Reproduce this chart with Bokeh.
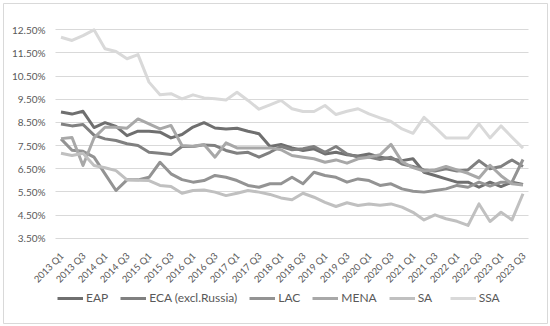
import math
from bokeh.plotting import figure
from bokeh.models import Range1d, FixedTicker, Legend, LegendItem, ColumnDataSource
from bokeh.core.properties import value
from bokeh.embed import file_html
from bokeh.resources import INLINE

quarters = [
    "2013 Q1", "2013 Q2", "2013 Q3", "2013 Q4",
    "2014 Q1", "2014 Q2", "2014 Q3", "2014 Q4",
    "2015 Q1", "2015 Q2", "2015 Q3", "2015 Q4",
    "2016 Q1", "2016 Q2", "2016 Q3", "2016 Q4",
    "2017 Q1", "2017 Q2", "2017 Q3", "2017 Q4",
    "2018 Q1", "2018 Q2", "2018 Q3", "2018 Q4",
    "2019 Q1", "2019 Q2", "2019 Q3", "2019 Q4",
    "2020 Q1", "2020 Q2", "2020 Q3", "2020 Q4",
    "2021 Q1", "2021 Q2", "2021 Q3", "2021 Q4",
    "2022 Q1", "2022 Q2", "2022 Q3", "2022 Q4",
    "2023 Q1", "2023 Q2", "2023 Q3",
]

eap = [8.95, 8.86, 8.98, 8.28, 8.49, 8.33, 7.93, 8.12, 8.12, 8.08, 7.83, 7.98, 8.30,
       8.49, 8.26, 8.22, 8.25, 8.12, 8.01, 7.46, 7.55, 7.40, 7.29, 7.36, 7.14, 7.21,
       7.10, 7.05, 7.14, 7.00, 6.93, 6.85, 6.93, 6.35, 6.21, 6.06, 5.92, 5.92, 5.70,
       5.92, 5.73, 5.92, 5.82]
eca = [8.43, 8.35, 8.41, 7.95, 7.79, 7.72, 7.58, 7.50, 7.21, 7.17, 7.11, 7.46, 7.46,
       7.53, 7.50, 7.29, 7.17, 7.21, 7.00, 7.21, 7.46, 7.32, 7.36, 7.46, 7.21, 7.46,
       7.14, 7.00, 7.00, 6.90, 7.00, 6.70, 6.60, 6.45, 6.40, 6.50, 6.40, 6.45, 6.85,
       6.50, 6.60, 6.88, 6.60]
lac = [7.79, 7.30, 7.25, 7.00, 6.28, 5.56, 6.02, 6.02, 6.13, 6.78, 6.28, 6.03, 5.92,
       5.99, 6.21, 6.13, 5.99, 5.78, 5.70, 5.85, 5.85, 6.13, 5.85, 6.35, 6.21, 6.13,
       5.92, 6.06, 5.99, 5.78, 5.85, 5.63, 5.53, 5.49, 5.56, 5.63, 5.78, 5.70, 5.92,
       5.75, 5.92, 5.92, 6.90]
mena = [7.80, 7.85, 6.64, 7.83, 8.29, 8.29, 8.25, 8.65, 8.44, 8.22, 8.37, 7.50, 7.47,
        7.55, 7.00, 7.62, 7.40, 7.40, 7.40, 7.40, 7.32, 7.07, 7.00, 6.93, 6.78, 6.88,
        6.74, 6.93, 7.00, 7.10, 7.55, 6.80, 6.55, 6.40, 6.45, 6.60, 6.45, 6.30, 6.10,
        6.65, 6.20, 5.85, 5.80]
sa = [7.17, 7.07, 7.17, 6.64, 6.54, 6.42, 6.02, 6.00, 5.99, 5.78, 5.73, 5.44, 5.56,
      5.58, 5.49, 5.34, 5.44, 5.56, 5.49, 5.39, 5.24, 5.16, 5.44, 5.27, 5.05, 4.87,
      5.03, 4.91, 4.98, 4.92, 4.98, 4.84, 4.62, 4.29, 4.51, 4.34, 4.23, 4.05, 4.98,
      4.22, 4.62, 4.29, 5.42]
ssa = [12.18, 12.04, 12.25, 12.50, 11.68, 11.56, 11.25, 11.43, 10.24, 9.70, 9.74, 9.52,
       9.69, 9.56, 9.52, 9.47, 9.80, 9.45, 9.07, 9.26, 9.45, 9.09, 8.97, 8.97, 9.23,
       8.84, 8.98, 9.09, 8.87, 8.70, 8.54, 8.22, 8.03, 8.72, 8.29, 7.83, 7.83, 7.83,
       8.44, 7.83, 8.35, 7.86, 7.39]

series_names = ["EAP", "ECA (excl.Russia)", "LAC", "MENA", "SA", "SSA"]
series_values = [eap, eca, lac, mena, sa, ssa]
series_colors = ["#6f6f6f", "#808080", "#939393", "#a8a8a8", "#c0c0c0", "#d9d9d9"]

y_ticks = [3.5, 4.5, 5.5, 6.5, 7.5, 8.5, 9.5, 10.5, 11.5, 12.5]
y_tick_labels = ["3.50%", "4.50%", "5.50%", "6.50%", "7.50%",
                 "8.50%", "9.50%", "10.50%", "11.50%", "12.50%"]
y_min, y_max = 3.5, 12.5

FONT = "Lato"
TXT = "#595959"

xs = list(range(len(quarters)))
n = len(quarters)

# ---- layout in screen pixels (page has no margin) ----
W, H = 550, 326
B = 3                       # chart-area border inset
FRAME_W, FRAME_H = W - 2 * B, H - 2 * B
CAT_PX = 11.0               # pixels per category
X0_PX = 60.5 - B            # centre of first category from frame left
UNIT_PX = 208.4 / (y_max - y_min)   # pixels per percentage point
TOP_PX = 29.3 - B           # top gridline from frame top
x_start = -X0_PX / CAT_PX
x_end = x_start + FRAME_W / CAT_PX
y_top = y_max + TOP_PX / UNIT_PX
y_bot = y_top - FRAME_H / UNIT_PX

p = figure(width=W, height=H,
           x_range=Range1d(x_start, x_end),
           y_range=Range1d(y_bot, y_top),
           output_backend="svg", toolbar_location=None,
           min_border_left=B, min_border_right=B,
           min_border_top=B, min_border_bottom=B)
p.outline_line_color = "#d9d9d9"
p.outline_line_width = 1
p.background_fill_color = "white"
p.border_fill_color = "white"
p.xaxis.visible = False
p.yaxis.visible = False
p.xgrid.grid_line_color = None

p.ygrid.ticker = FixedTicker(ticks=y_ticks)
p.ygrid.grid_line_color = "#d9d9d9"
p.ygrid.grid_line_width = 1
p.ygrid.cross_bounds = (-0.5, n - 0.5)

# value-axis labels
ysrc = ColumnDataSource(dict(x=[-0.5] * len(y_ticks), y=y_ticks, label=y_tick_labels))
p.text(x="x", y="y", text="label", source=ysrc,
       text_align="right", text_baseline="middle", x_offset=-10,
       text_font=value(FONT), text_font_size="10px", text_color=TXT)

# category labels, every second quarter, rotated 45 degrees
tick_idx = list(range(0, n, 2))
tick_src = ColumnDataSource(dict(x=tick_idx,
                                 y=[y_min] * len(tick_idx),
                                 label=[quarters[i] for i in tick_idx]))
p.text(x="x", y="y", text="label", source=tick_src,
       angle=math.pi / 4, text_align="right", text_baseline="middle",
       x_offset=1, y_offset=16,
       text_font=value(FONT), text_font_size="9.5px", text_color=TXT)

items = []
for name, vals, col in zip(series_names, series_values, series_colors):
    r = p.line(xs, vals, line_color=col, line_width=3, line_join="round")
    items.append(LegendItem(label=name, renderers=[r]))

legend = Legend(items=items, orientation="horizontal", location=(54, 18))
legend.border_line_color = None
legend.background_fill_alpha = 0
legend.label_text_font = FONT
legend.label_text_font_size = "12px"
legend.label_text_color = TXT
legend.glyph_width = 26
legend.glyph_height = 14
legend.label_height = 14
legend.label_standoff = 3
legend.spacing = 12
legend.padding = 0
legend.margin = 0
p.add_layout(legend)

open("out.html", "w").write(file_html(p, INLINE))
